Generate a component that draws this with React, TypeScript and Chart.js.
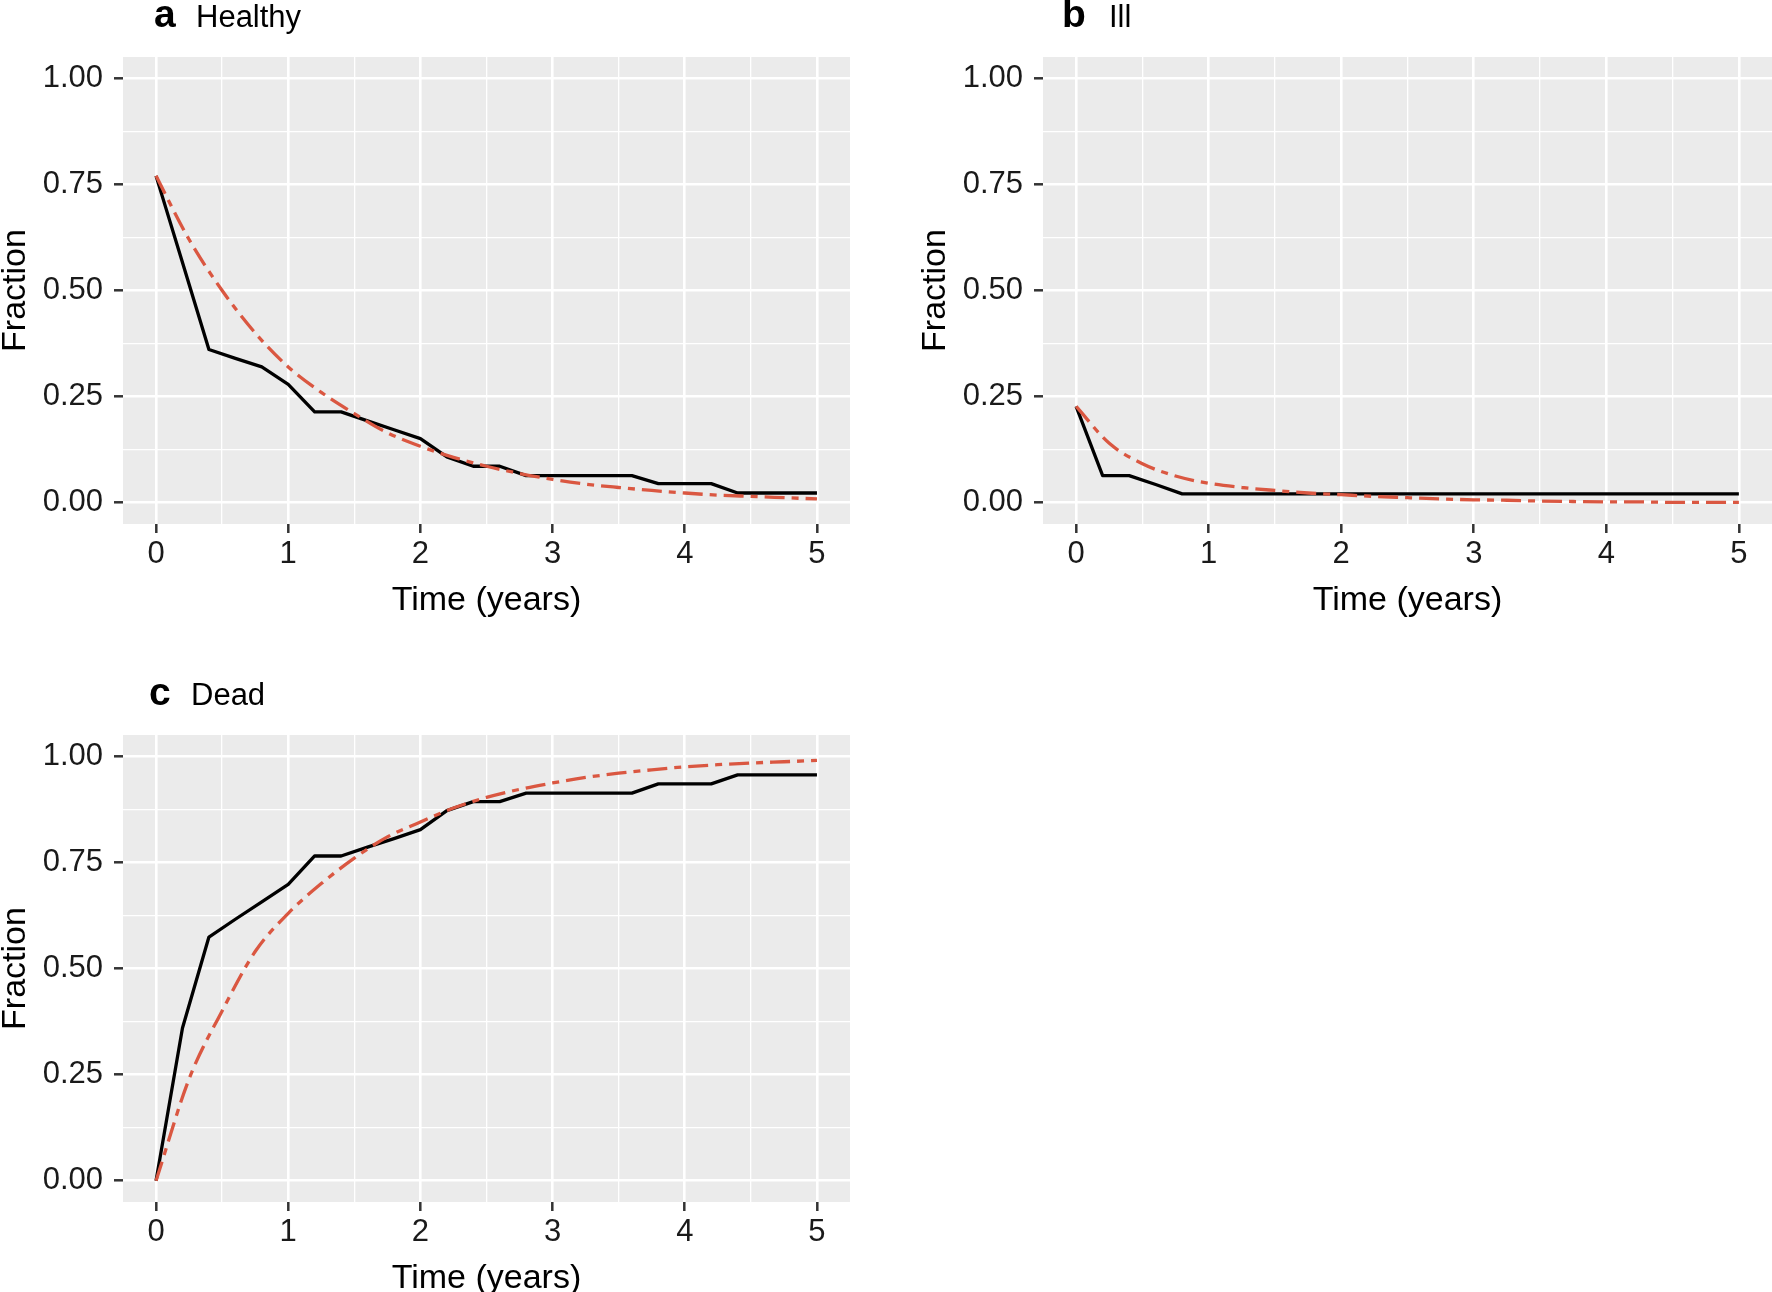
import React, { useEffect, useRef } from 'react';
import { Chart, registerables } from 'chart.js';

Chart.register(...registerables);

// ---------- data ----------
const observedTimes = [0, 0.2, 0.4, 0.6, 0.8, 1.0, 1.2, 1.4, 1.6, 1.8, 2.0, 2.2, 2.4, 2.6, 2.8, 3.0, 3.2, 3.4, 3.6, 3.8, 4.0, 4.2, 4.4, 4.6, 4.8, 5.0];
const healthyObserved = [0.770, 0.566, 0.361, 0.340, 0.320, 0.279, 0.214, 0.214, 0.193, 0.172, 0.151, 0.108, 0.086, 0.086, 0.064, 0.064, 0.064, 0.064, 0.064, 0.045, 0.045, 0.045, 0.023, 0.023, 0.023, 0.023];
const illObserved = [0.227, 0.064, 0.064, 0.043, 0.021, 0.021, 0.021, 0.021, 0.021, 0.021, 0.021, 0.021, 0.021, 0.021, 0.021, 0.021, 0.021, 0.021, 0.021, 0.021, 0.021, 0.021, 0.021, 0.021, 0.021, 0.021];
const deadObserved = [0.0, 0.360, 0.574, 0.616, 0.657, 0.698, 0.765, 0.765, 0.786, 0.806, 0.827, 0.872, 0.893, 0.893, 0.913, 0.913, 0.913, 0.913, 0.913, 0.935, 0.935, 0.935, 0.956, 0.956, 0.956, 0.956];

const modelTimes = [0, 0.25, 0.5, 0.75, 1.0, 1.25, 1.5, 1.75, 2.0, 2.25, 2.5, 2.75, 3.0, 3.25, 3.5, 3.75, 4.0, 4.25, 4.5, 4.75, 5.0];
const healthyModel = [0.770, 0.620, 0.500, 0.400, 0.320, 0.260, 0.210, 0.165, 0.133, 0.107, 0.086, 0.069, 0.055, 0.044, 0.036, 0.029, 0.023, 0.018, 0.015, 0.012, 0.009];
const illModel = [0.227, 0.140, 0.092, 0.063, 0.046, 0.036, 0.029, 0.023, 0.019, 0.015, 0.012, 0.009, 0.007, 0.006, 0.004, 0.003, 0.002, 0.002, 0.001, 0.001, 0.001];
const deadModel = [0.0, 0.240, 0.400, 0.540, 0.630, 0.700, 0.760, 0.810, 0.845, 0.878, 0.903, 0.922, 0.937, 0.950, 0.960, 0.968, 0.975, 0.980, 0.984, 0.987, 0.990];

const xTickValues = [0, 1, 2, 3, 4, 5];
const xTickLabels = ['0', '1', '2', '3', '4', '5'];
const xMinorValues = [0.5, 1.5, 2.5, 3.5, 4.5];
const yTickValues = [0, 0.25, 0.5, 0.75, 1.0];
const yTickLabels = ['0.00', '0.25', '0.50', '0.75', '1.00'];
const yMinorValues = [0.125, 0.375, 0.625, 0.875];

const panelLetters = ['a', 'b', 'c'];
const panelNames = ['Healthy', 'Ill', 'Dead'];
const xAxisTitle = 'Time (years)';
const yAxisTitle = 'Fraction';

// ---------- layout / style ----------
const PAGE_W = 1772;
const PAGE_H = 1292;
const Y_AXIS_W = 123;
const X_AXIS_H = 60;
const FONT = "'Liberation Sans', Arial, Helvetica, sans-serif";
const RED = '#DA5741';

type PanelLayout = { left: number; top: number; right: number; bottom: number; letterX: number; nameX: number };
const layouts: PanelLayout[] = [
  { left: 123, top: 57, right: 850, bottom: 524, letterX: 154, nameX: 196 },
  { left: 1043, top: 57, right: 1772, bottom: 524, letterX: 1062, nameX: 1109 },
  { left: 123, top: 735, right: 850, bottom: 1202, letterX: 149, nameX: 191 },
];

const observedSeries = [healthyObserved, illObserved, deadObserved];
const modelSeries = [healthyModel, illModel, deadModel];

const isIn = (arr: number[], v: number) => arr.some((a) => Math.abs(a - v) < 1e-9);

function makeChart(canvas: HTMLCanvasElement, idx: number) {
  const L = layouts[idx];
  const bgPlugin = {
    id: 'panelBg' + idx,
    beforeDraw(chart: any) {
      const { ctx, chartArea: a } = chart;
      ctx.save();
      ctx.fillStyle = '#EBEBEB';
      ctx.fillRect(a.left, a.top, a.right - a.left, a.bottom - a.top);
      ctx.restore();
    },
  };
  const textPlugin = {
    id: 'panelText' + idx,
    afterDraw(chart: any) {
      const { ctx, chartArea: a } = chart;
      ctx.save();
      ctx.fillStyle = '#000000';
      ctx.textBaseline = 'alphabetic';
      // panel title
      ctx.textAlign = 'left';
      ctx.font = `bold 39px ${FONT}`;
      ctx.fillText(panelLetters[idx], L.letterX, a.top - 30);
      ctx.font = `31px ${FONT}`;
      ctx.fillText(panelNames[idx], L.nameX, a.top - 30);
      // x axis title
      ctx.font = `34px ${FONT}`;
      ctx.textAlign = 'center';
      ctx.fillText(xAxisTitle, (a.left + a.right) / 2, a.bottom + 86);
      // y axis title
      ctx.translate(a.left - 98, (a.top + a.bottom) / 2);
      ctx.rotate(-Math.PI / 2);
      ctx.fillText(yAxisTitle, 0, 0);
      ctx.restore();
    },
  };

  const gridCommon = (majors: number[]) => ({
    color: '#FFFFFF',
    lineWidth: (c: any) => (isIn(majors, c.tick?.value) ? 2.6 : 1.3),
    drawTicks: true,
    tickLength: 9,
    tickWidth: 2.5,
    tickColor: (c: any) => (isIn(majors, c.tick?.value) ? '#333333' : 'rgba(0,0,0,0)'),
  });

  return new Chart(canvas, {
    type: 'line',
    data: {
      datasets: [
        {
          data: modelSeries[idx].map((y, i) => ({ x: modelTimes[i], y })),
          borderColor: RED,
          borderWidth: 3.3,
          borderDash: [20, 7, 7, 7],
          pointRadius: 0,
          cubicInterpolationMode: 'monotone',
          fill: false,
        },
        {
          data: observedSeries[idx].map((y, i) => ({ x: observedTimes[i], y })),
          borderColor: '#000000',
          borderWidth: 3.3,
          pointRadius: 0,
          tension: 0,
          borderJoinStyle: 'round',
          fill: false,
        },
      ],
    },
    options: {
      responsive: false,
      animation: false,
      devicePixelRatio: 1,
      layout: {
        padding: {
          left: L.left - Y_AXIS_W,
          top: L.top,
          right: PAGE_W - L.right,
          bottom: PAGE_H - L.bottom - X_AXIS_H,
        },
      },
      plugins: { legend: { display: false }, tooltip: { enabled: false }, title: { display: false } },
      scales: {
        x: {
          type: 'linear',
          min: -0.25,
          max: 5.25,
          afterBuildTicks: (s: any) => {
            s.ticks = [...xTickValues, ...xMinorValues].sort((p, q) => p - q).map((v) => ({ value: v }));
          },
          afterFit: (s: any) => {
            s.height = X_AXIS_H;
          },
          border: { display: false },
          grid: gridCommon(xTickValues),
          ticks: {
            autoSkip: false,
            maxRotation: 0,
            padding: 3,
            color: '#1A1A1A',
            font: { family: FONT, size: 31 },
            callback: (v: any) => {
              const k = xTickValues.findIndex((t) => Math.abs(t - v) < 1e-9);
              return k >= 0 ? xTickLabels[k] : '';
            },
          },
        },
        y: {
          type: 'linear',
          min: -0.05,
          max: 1.05,
          afterBuildTicks: (s: any) => {
            s.ticks = [...yTickValues, ...yMinorValues].sort((p, q) => p - q).map((v) => ({ value: v }));
          },
          afterFit: (s: any) => {
            s.width = Y_AXIS_W;
          },
          border: { display: false },
          grid: gridCommon(yTickValues),
          ticks: {
            autoSkip: false,
            padding: 11,
            color: '#1A1A1A',
            font: { family: FONT, size: 31 },
            callback: (v: any) => {
              const k = yTickValues.findIndex((t) => Math.abs(t - v) < 1e-9);
              return k >= 0 ? yTickLabels[k] : '';
            },
          },
        },
      },
    },
    plugins: [bgPlugin, textPlugin],
  } as any);
}

function Panel({ idx }: { idx: number }) {
  const ref = useRef<HTMLCanvasElement>(null);
  useEffect(() => {
    if (!ref.current) return;
    const chart = makeChart(ref.current, idx);
    return () => chart.destroy();
  }, [idx]);
  return (
    <canvas
      ref={ref}
      width={PAGE_W}
      height={PAGE_H}
      style={{ position: 'absolute', left: 0, top: 0, width: PAGE_W, height: PAGE_H }}
    />
  );
}

export default function App() {
  return (
    <div style={{ position: 'absolute', left: 0, top: 0, width: PAGE_W, height: PAGE_H, background: '#FFFFFF', overflow: 'hidden' }}>
      <Panel idx={0} />
      <Panel idx={1} />
      <Panel idx={2} />
    </div>
  );
}
